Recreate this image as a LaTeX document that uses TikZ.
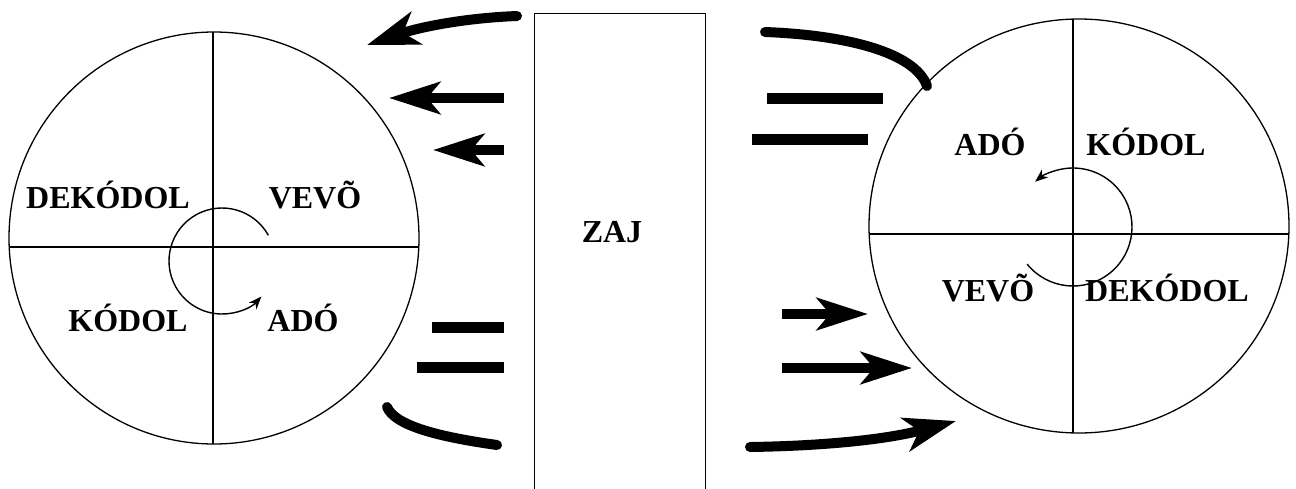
\documentclass[tikz,border=0pt]{standalone}
\usepackage{fontspec}
\setmainfont{Liberation Serif}
\usetikzlibrary{arrows.meta}
\begin{document}
\begin{tikzpicture}[x=1pt,y=1pt,
  thin line/.style={line width=1.3pt},
  lbl/.style={font=\fontsize{32}{38}\selectfont\bfseries, inner sep=0pt},
  fat/.style={line width=10pt},
  fatarrow/.style={line width=10pt, -{Stealth[length=51pt,width=32pt,inset=13pt]}},
  bar/.style={line width=11pt},
  roundfat/.style={line width=10pt, line cap=round},
  spin/.style={line width=1.4pt, -{Stealth[length=13pt,width=10pt,inset=4pt]}}]
\useasboundingbox (0,0) rectangle (1296,-488);

% ---- left circle ----
\coordinate (lc) at (214,-238);
\draw[thin line] (lc) ellipse[x radius=205, y radius=206];
\begin{scope}
  \clip (lc) ellipse[x radius=205, y radius=206];
  \draw[thin line] (0,-247) -- (430,-247);
  \draw[thin line] (213,0) -- (213,-488);
\end{scope}
\node[lbl] (l1) at (108,-195) {DEKÓDOL};
\node[lbl] (l2) at (315,-195) {VEVÕ};
\node[lbl] (l3) at (128,-318) {KÓDOL};
\node[lbl] (l4) at (303,-318) {ADÓ};
\coordinate (lac) at (222,-261);
\draw[spin] ([shift={(29:53)}]lac) arc[start angle=29, end angle=318, radius=53];

% ---- right circle ----
\coordinate (rc) at (1079,-226);
\draw[thin line] (rc) ellipse[x radius=210, y radius=207];
\begin{scope}
  \clip (rc) ellipse[x radius=210, y radius=207];
  \draw[thin line] (860,-234) -- (1296,-234);
  \draw[thin line] (1073,0) -- (1073,-488);
\end{scope}
\node[lbl] (r1) at (990,-142) {ADÓ};
\node[lbl] (r2) at (1146,-142) {KÓDOL};
\node[lbl] (r3) at (988,-288) {VEVÕ};
\node[lbl] (r4) at (1167,-288) {DEKÓDOL};
\coordinate (rac) at (1073,-227);
\draw[spin] ([shift={(-141:59)}]rac) arc[start angle=-141, end angle=130, radius=59];

% ---- noise box ----
\node[draw, line width=1pt, minimum width=171pt, minimum height=480pt, inner sep=0pt] (zajbox) at (619.5,-253) {};
\node[lbl] (zaj) at (612,-232) {ZAJ};

% ---- left side signals ----
\coordinate (a1s) at (517,-16);
\coordinate (a1e) at (367,-45);
\draw[line width=10pt, line cap=round, -{Stealth[length=52pt,width=34pt,inset=14pt]}]
  (a1s) .. controls (465,-18) and (420,-27) .. (a1e);
\coordinate (a2s) at (504,-98);
\coordinate (a2e) at (389,-98);
\draw[fatarrow] (a2s) -- (a2e);
\coordinate (a3s) at (504,-150);
\coordinate (a3e) at (433,-150);
\draw[fatarrow] (a3s) -- (a3e);
\coordinate (b1s) at (432,-327.5);
\coordinate (b1e) at (504,-327.5);
\draw[bar] (b1s) -- (b1e);
\coordinate (b2s) at (417,-367.5);
\coordinate (b2e) at (504,-367.5);
\draw[bar] (b2s) -- (b2e);
\coordinate (c1s) at (387,-407);
\coordinate (c1e) at (497,-445);
\draw[roundfat] (c1s) .. controls (395,-426) and (440,-437) .. (c1e);

% ---- right side signals ----
\coordinate (c2s) at (765,-32);
\coordinate (c2e) at (927,-86);
\draw[roundfat] (c2s) .. controls (845,-35) and (915,-52) .. (c2e);
\coordinate (b3s) at (767,-98.5);
\coordinate (b3e) at (883,-98.5);
\draw[bar] (b3s) -- (b3e);
\coordinate (b4s) at (752,-139.5);
\coordinate (b4e) at (868,-139.5);
\draw[bar] (b4s) -- (b4e);
\coordinate (a4s) at (782,-314);
\coordinate (a4e) at (868,-314);
\draw[fatarrow] (a4s) -- (a4e);
\coordinate (a5s) at (782,-368);
\coordinate (a5e) at (912,-368);
\draw[fatarrow] (a5s) -- (a5e);
\coordinate (a6s) at (750,-447);
\coordinate (a6e) at (956,-421);
\draw[line width=10pt, line cap=round, -{Stealth[length=52pt,width=34pt,inset=14pt]}]
  (a6s) .. controls (820,-446) and (885,-440) .. (a6e);
\end{tikzpicture}
\end{document}
